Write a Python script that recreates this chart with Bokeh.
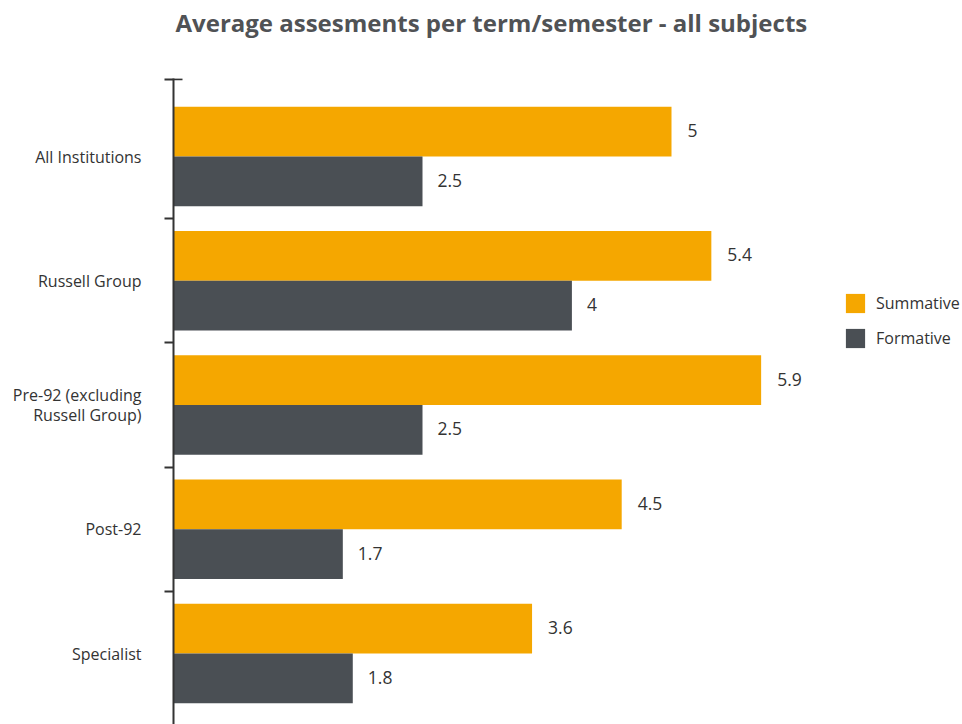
from bokeh.plotting import figure
from bokeh.models import ColumnDataSource, Range1d, FixedTicker, Legend, LegendItem
from bokeh.layouts import column
from bokeh.transform import dodge
from bokeh.core.properties import value
from bokeh.embed import file_html
from bokeh.resources import INLINE

title_text = "Average assesments per term/semester - all subjects"
categories = ["All Institutions", "Russell Group", "Pre-92 (excluding\nRussell Group)", "Post-92", "Specialist"]
summative = [5.0, 5.4, 5.9, 4.5, 3.6]
formative = [2.5, 4.0, 2.5, 1.7, 1.8]
summative_labels = ["5", "5.4", "5.9", "4.5", "3.6"]
formative_labels = ["2.5", "4", "2.5", "1.7", "1.8"]

ORANGE = "#F5A700"
GREY = "#4A4F54"
FONT = "Open Sans"

W = 962
TITLE_H = 78
H = 724 - TITLE_H
LEFT = 173

# ---- title strip (its own small svg figure, frame aligned with the chart) ----
t = figure(width=W, height=TITLE_H, output_backend="svg", toolbar_location=None,
           x_range=Range1d(0, W - LEFT), y_range=Range1d(0, TITLE_H),
           min_border_left=LEFT, min_border_right=0, min_border_top=0,
           min_border_bottom=0)
t.axis.visible = False
t.grid.visible = False
t.outline_line_color = None
t.text(x=[2], y=[TITLE_H - 22], text=[title_text], text_align="left",
       text_baseline="middle", text_font=value(FONT), text_font_size="24px",
       text_font_style="bold", text_color="#505255")

# ---- main chart ----
pos = list(range(len(categories)))
src = ColumnDataSource(dict(pos=pos, summ=summative, form=formative,
                            slab=summative_labels, flab=formative_labels))

cap = -0.622
p = figure(width=W, height=H, output_backend="svg", toolbar_location=None,
           x_range=Range1d(0, (W - LEFT) / 99.6), y_range=Range1d(4.571, -0.628),
           min_border_left=LEFT, min_border_right=0, min_border_bottom=0,
           min_border_top=0)

p.outline_line_color = None
p.grid.visible = False
p.xaxis.visible = False

yax = p.yaxis[0]
yax.ticker = FixedTicker(ticks=pos, minor_ticks=[cap, 0.5, 1.5, 2.5, 3.5])
yax.major_label_overrides = {i: c for i, c in enumerate(categories)}
yax.major_tick_out = 0
yax.major_tick_in = 0
yax.minor_tick_out = 9
yax.minor_tick_in = 0
yax.minor_tick_line_color = "#333333"
yax.minor_tick_line_width = 2
yax.axis_line_color = "#333333"
yax.axis_line_width = 2
yax.major_label_standoff = 23
yax.major_label_text_font = FONT
yax.major_label_text_font_size = "16px"
yax.major_label_text_color = "#333333"
yax.major_label_text_line_height = 0.95

r1 = p.hbar(y=dodge("pos", -0.2, range=p.y_range), left=0, right="summ", height=0.4,
            source=src, color=ORANGE, line_color=None)
r2 = p.hbar(y=dodge("pos", 0.2, range=p.y_range), left=0, right="form", height=0.4,
            source=src, color=GREY, line_color=None)

p.text(x="summ", y=dodge("pos", -0.2, range=p.y_range), text="slab", source=src,
       x_offset=16, y_offset=-1, text_baseline="middle", text_align="left",
       text_font=value(FONT), text_font_size="17.5px", text_color="#333333")
p.text(x="form", y=dodge("pos", 0.2, range=p.y_range), text="flab", source=src,
       x_offset=15, y_offset=-1, text_baseline="middle", text_align="left",
       text_font=value(FONT), text_font_size="17.5px", text_color="#333333")

p.scatter(x=[0], y=[cap], marker="dash", size=18, line_color="#333333", line_width=2)

legend = Legend(items=[LegendItem(label="Summative", renderers=[r1]),
                       LegendItem(label="Formative", renderers=[r2])],
                location=(670, 374), orientation="vertical")
legend.border_line_color = None
legend.background_fill_alpha = 0
legend.padding = 0
legend.margin = 0
legend.glyph_width = 24
legend.glyph_height = 24
legend.label_height = 24
legend.spacing = 11
legend.label_standoff = 9
legend.label_text_font = FONT
legend.label_text_font_size = "16px"
legend.label_text_color = "#333333"
p.add_layout(legend)

layout = column(t, p, spacing=0)
open("out.html", "w").write(file_html(layout, INLINE))
